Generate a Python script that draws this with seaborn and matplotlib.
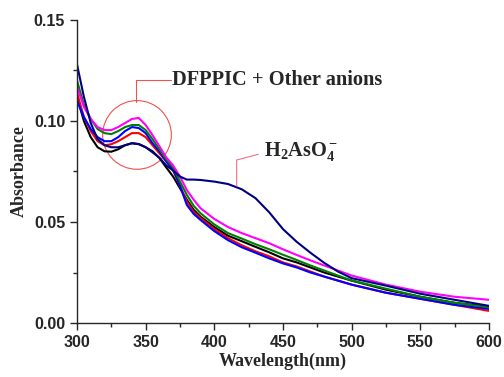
import numpy as np
import pandas as pd
import matplotlib
matplotlib.use("Agg")
import matplotlib.pyplot as plt
import seaborn as sns
from matplotlib.patches import Ellipse
from matplotlib.ticker import MultipleLocator

# wavelength grid (nm)
wavelength = [300, 305, 310, 315, 320, 325, 330, 335, 340, 345, 350, 355, 360, 365, 370,
              375, 380, 385, 390, 400, 410, 420, 430, 440, 450, 460, 470, 480, 490, 500,
              525, 550, 575, 600]

# absorbance
navy = [0.128, 0.112, 0.099, 0.091, 0.088, 0.087, 0.087, 0.088, 0.089, 0.0885, 0.087, 0.0845,
        0.0818, 0.078, 0.0755, 0.0725, 0.0710, 0.0710, 0.0708, 0.0700, 0.0688, 0.0662, 0.0618,
        0.0548, 0.0465, 0.0402, 0.0348, 0.0298, 0.0255, 0.0222, 0.0185, 0.0145, 0.0115, 0.0085]
magenta = [0.117, 0.107, 0.101, 0.097, 0.0955, 0.0955, 0.097, 0.099, 0.101, 0.1015, 0.098, 0.093,
           0.0875, 0.082, 0.078, 0.0725, 0.0658, 0.061, 0.0568, 0.0515, 0.0475, 0.0445, 0.042,
           0.0395, 0.0365, 0.0337, 0.031, 0.0285, 0.026, 0.0235, 0.019, 0.0155, 0.013, 0.0115]
green = [0.120, 0.108, 0.101, 0.096, 0.094, 0.0935, 0.095, 0.097, 0.098, 0.098, 0.0955, 0.091,
         0.086, 0.081, 0.077, 0.070, 0.0634, 0.058, 0.0543, 0.0488, 0.0445, 0.0418, 0.039,
         0.0365, 0.0338, 0.0312, 0.0285, 0.026, 0.0235, 0.021, 0.017, 0.013, 0.010, 0.0078]
blue = [0.110, 0.102, 0.096, 0.092, 0.090, 0.090, 0.092, 0.095, 0.097, 0.0965, 0.094, 0.089,
        0.085, 0.080, 0.076, 0.068, 0.0584, 0.054, 0.051, 0.0455, 0.041, 0.0375, 0.0348,
        0.032, 0.0295, 0.0275, 0.025, 0.023, 0.021, 0.019, 0.015, 0.012, 0.009, 0.007]
red = [0.114, 0.102, 0.095, 0.090, 0.088, 0.0885, 0.090, 0.092, 0.094, 0.094, 0.092, 0.088,
       0.084, 0.080, 0.0755, 0.068, 0.060, 0.055, 0.052, 0.0465, 0.042, 0.0385, 0.0355,
       0.033, 0.030, 0.028, 0.0255, 0.023, 0.021, 0.019, 0.015, 0.012, 0.009, 0.006]
black = [0.112, 0.100, 0.092, 0.087, 0.085, 0.0848, 0.086, 0.088, 0.089, 0.0886, 0.087, 0.085,
         0.0817, 0.077, 0.0725, 0.0667, 0.061, 0.056, 0.0526, 0.0475, 0.0432, 0.0405, 0.0377,
         0.035, 0.032, 0.030, 0.0275, 0.025, 0.023, 0.021, 0.0165, 0.013, 0.010, 0.008]

series = {"black": black, "red": red, "blue": blue, "green": green,
          "magenta": magenta, "navy": navy}
colors = {"black": "#000000", "red": "#FF0000", "blue": "#0000FF",
          "green": "#008000", "magenta": "#FF00FF", "navy": "#000080"}

rows = []
for name, vals in series.items():
    for w, v in zip(wavelength, vals):
        rows.append({"wl": w, "abs": v, "sample": name})
df = pd.DataFrame(rows)

sns.set_style("ticks")
plt.rcParams["font.family"] = ["Liberation Sans", "DejaVu Sans"]
plt.rcParams["mathtext.fontset"] = "custom"
plt.rcParams["mathtext.rm"] = "Liberation Serif:bold"
plt.rcParams["mathtext.bf"] = "Liberation Serif:bold"
plt.rcParams["mathtext.it"] = "Liberation Serif:bold"

fig = plt.figure(figsize=(5.04, 3.77), dpi=100)
ax = fig.add_axes([0.1528, 0.1432, 0.8172, 0.8038])

sns.lineplot(data=df, x="wl", y="abs", hue="sample", palette=colors,
             linewidth=1.5, legend=False, ax=ax)

ax.set_xlim(300, 600)
ax.set_ylim(0, 0.15)
ax.xaxis.set_major_locator(MultipleLocator(50))
ax.xaxis.set_minor_locator(MultipleLocator(25))
ax.yaxis.set_major_locator(MultipleLocator(0.05))
ax.yaxis.set_minor_locator(MultipleLocator(0.025))
ax.tick_params(which="major", direction="out", length=5, width=1, labelsize=11.5)
ax.tick_params(which="minor", direction="out", length=3, width=1)
for lab in ax.get_xticklabels() + ax.get_yticklabels():
    lab.set_fontweight("bold")
sns.despine(ax=ax)
for s in ["left", "bottom"]:
    ax.spines[s].set_linewidth(1)

ax.set_xlabel("Wavelength(nm)", family="Liberation Serif", fontweight="bold",
              fontsize=13, labelpad=2)
ax.set_ylabel("Absorbance", family="Liberation Serif", fontweight="bold", fontsize=13)

# circle + leader for the group of anions
ax.add_patch(Ellipse((343.7, 0.0931), 50, 0.034, fill=False, color="#F05050", lw=0.8))
ax.plot([343, 343, 368.5], [0.1094, 0.1203, 0.1203], color="#F05050", lw=0.8)
ax.text(369.5, 0.1203, "DFPPIC + Other anions", family="Liberation Serif",
        fontweight="bold", fontsize=14.7, va="center", ha="left")

# leader for H2AsO4-
ax.plot([416.3, 416.3, 432], [0.0678, 0.0807, 0.0835], color="#F07080", lw=0.8)
ax.text(436, 0.0847, r"$\mathbf{H_2AsO_4^-}$", family="Liberation Serif",
        fontweight="bold", fontsize=14.7, va="center", ha="left")

fig.savefig("out.png", dpi=100)
